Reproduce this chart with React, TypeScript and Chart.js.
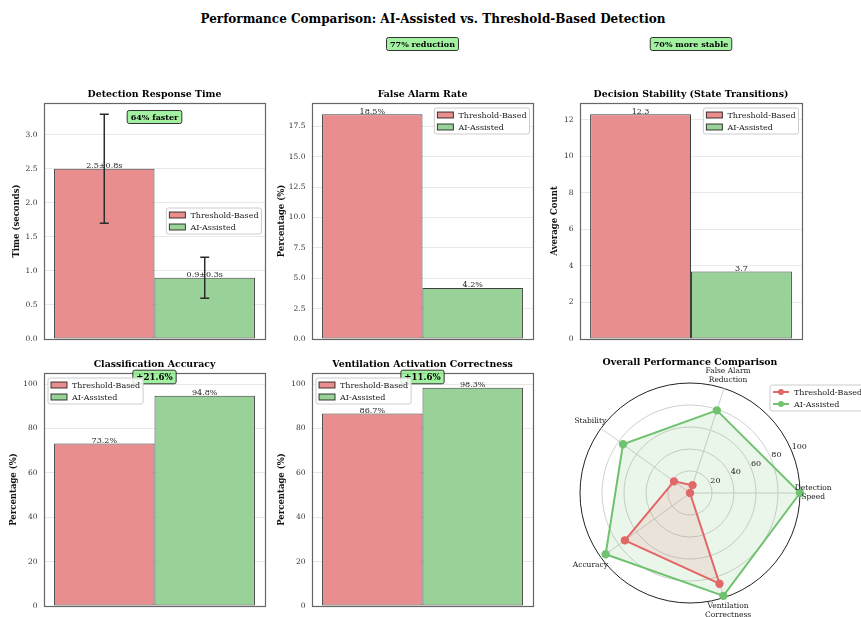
import React, { useEffect, useRef } from 'react';
import { Chart, registerables } from 'chart.js';

Chart.register(...registerables);

const FONT = '"DejaVu Serif", "Liberation Serif", serif';

// ---------- data ----------
const seriesNames = ['Threshold-Based', 'AI-Assisted'];

const responseTime = [2.5, 0.9];
const responseStd = [0.8, 0.3];
const falseAlarmRate = [18.5, 4.2];
const stateTransitions = [12.3, 3.7];
const classificationAccuracy = [73.2, 94.8];
const ventilationCorrectness = [86.7, 98.3];

const badgeTexts = ['64% faster', '77% reduction', '70% more stable', '+21.6%', '+11.6%'];

// radar categories in clockwise order starting at the right
const radarCategories = [
  ['Detection', 'Speed'],
  ['Ventilation', 'Correctness'],
  ['Accuracy'],
  ['Stability'],
  ['False Alarm', 'Reduction'],
];
const radarThreshold = [0, 86.7, 73.2, 18, 7.5];
const radarAI = [100, 98.3, 94.8, 75.3, 79];
const radarTicks = [20, 40, 60, 80, 100];

// ---------- styles ----------
const BAR_RED = 'rgb(232,142,142)';
const BAR_GREEN = 'rgb(152,210,152)';
const EDGE = 'rgba(0,0,0,0.75)';
const LINE_RED = 'rgb(226,104,104)';
const LINE_GREEN = 'rgb(112,194,112)';
const FRAME = '#666666';
const GRID = '#e8e8e8';

function roundRect(ctx: CanvasRenderingContext2D, x: number, y: number, w: number, h: number, r: number) {
  ctx.beginPath();
  ctx.moveTo(x + r, y);
  ctx.arcTo(x + w, y, x + w, y + h, r);
  ctx.arcTo(x + w, y + h, x, y + h, r);
  ctx.arcTo(x, y + h, x, y, r);
  ctx.arcTo(x, y, x + w, y, r);
  ctx.closePath();
}

function drawBadge(ctx: CanvasRenderingContext2D, cx: number, cy: number, text: string, size: number) {
  ctx.save();
  ctx.font = `bold ${size}px ${FONT}`;
  const tw = ctx.measureText(text).width;
  const w = tw + 7;
  const h = size + 5;
  roundRect(ctx, cx - w / 2, cy - h / 2, w, h, 2);
  ctx.fillStyle = 'rgba(144,238,144,0.85)';
  ctx.fill();
  ctx.strokeStyle = '#333';
  ctx.lineWidth = 1;
  ctx.stroke();
  ctx.fillStyle = '#000';
  ctx.textAlign = 'center';
  ctx.textBaseline = 'middle';
  ctx.fillText(text, cx, cy + 0.5);
  ctx.restore();
}

type LegendItem = { label: string; fill: string; line: string };

function drawLegend(
  ctx: CanvasRenderingContext2D,
  ax: number,
  ay: number,
  hAlign: 'left' | 'right',
  vAlign: 'top' | 'center',
  items: LegendItem[],
  kind: 'patch' | 'line'
) {
  ctx.save();
  const fs = 8;
  ctx.font = `${fs}px ${FONT}`;
  const rowH = 12;
  const padX = 3;
  const padY = 1;
  const handleW = 16;
  const gap = 5;
  let tw = 0;
  items.forEach((it) => (tw = Math.max(tw, ctx.measureText(it.label).width)));
  const w = padX + handleW + gap + tw + padX;
  const h = padY * 2 + rowH * items.length;
  const x = hAlign === 'left' ? ax : ax - w;
  const y = vAlign === 'top' ? ay : ay - h / 2;
  roundRect(ctx, x, y, w, h, 2);
  ctx.fillStyle = 'rgba(255,255,255,0.85)';
  ctx.fill();
  ctx.strokeStyle = '#cccccc';
  ctx.lineWidth = 1;
  ctx.stroke();
  items.forEach((it, i) => {
    const cy = y + padY + rowH * (i + 0.5);
    const hx = x + padX;
    if (kind === 'patch') {
      ctx.fillStyle = it.fill;
      ctx.fillRect(hx, cy - 3, handleW, 6);
      ctx.strokeStyle = EDGE;
      ctx.lineWidth = 1;
      ctx.strokeRect(hx, cy - 3, handleW, 6);
    } else {
      ctx.strokeStyle = it.line;
      ctx.lineWidth = 2;
      ctx.beginPath();
      ctx.moveTo(hx, cy);
      ctx.lineTo(hx + handleW, cy);
      ctx.stroke();
      ctx.fillStyle = it.line;
      ctx.beginPath();
      ctx.arc(hx + handleW / 2, cy, 3, 0, Math.PI * 2);
      ctx.fill();
    }
    ctx.fillStyle = '#222';
    ctx.textAlign = 'left';
    ctx.textBaseline = 'middle';
    ctx.fillText(it.label, hx + handleW + gap, cy + 0.5);
  });
  ctx.restore();
}

const legendItems: LegendItem[] = [
  { label: seriesNames[0], fill: BAR_RED, line: LINE_RED },
  { label: seriesNames[1], fill: BAR_GREEN, line: LINE_GREEN },
];

type PanelCfg = {
  id: string;
  left: number;
  top: number;
  w: number;
  h: number;
  pad: { left: number; right: number; top: number; bottom: number };
  yWidth: number;
  yTitlePad: number;
  title: string;
  yTitle: string;
  values: number[];
  errors?: number[];
  labels: string[];
  yMax: number;
  step: number;
  dec: number;
  legend: 'centerRight' | 'upperRight' | 'upperLeft';
  badge: { text: string; dy: number; size: number };
};

const panels: PanelCfg[] = [
  {
    id: 'p1', left: 0, top: 30, w: 290, h: 320,
    pad: { left: 0, right: 25, top: 73, bottom: 6 }, yWidth: 44, yTitlePad: 11.8,
    title: 'Detection Response Time', yTitle: 'Time (seconds)',
    values: responseTime, errors: responseStd,
    labels: responseTime.map((v, i) => `${v.toFixed(1)}±${responseStd[i].toFixed(1)}s`),
    yMax: 3.465, step: 0.5, dec: 1, legend: 'centerRight',
    badge: { text: badgeTexts[0], dy: 14, size: 8 },
  },
  {
    id: 'p2', left: 270, top: 30, w: 290, h: 320,
    pad: { left: 0, right: 27, top: 73, bottom: 6 }, yWidth: 42, yTitlePad: 6.8,
    title: 'False Alarm Rate', yTitle: 'Percentage (%)',
    values: falseAlarmRate, labels: falseAlarmRate.map((v) => `${v.toFixed(1)}%`),
    yMax: 19.425, step: 2.5, dec: 1, legend: 'upperRight',
    badge: { text: badgeTexts[1], dy: -59, size: 8 },
  },
  {
    id: 'p3', left: 540, top: 30, w: 290, h: 320,
    pad: { left: 0, right: 28, top: 73, bottom: 6 }, yWidth: 40, yTitlePad: 9.8,
    title: 'Decision Stability (State Transitions)', yTitle: 'Average Count',
    values: stateTransitions, labels: stateTransitions.map((v) => v.toFixed(1)),
    yMax: 12.915, step: 2, dec: 0, legend: 'upperRight',
    badge: { text: badgeTexts[2], dy: -59, size: 8 },
  },
  {
    id: 'p4', left: 0, top: 350, w: 290, h: 267,
    pad: { left: 0, right: 25, top: 23, bottom: 4 }, yWidth: 44, yTitlePad: 8.3,
    title: 'Classification Accuracy', yTitle: 'Percentage (%)',
    values: classificationAccuracy, labels: classificationAccuracy.map((v) => `${v.toFixed(1)}%`),
    yMax: 105, step: 20, dec: 0, legend: 'upperLeft',
    badge: { text: badgeTexts[3], dy: 4, size: 8.6 },
  },
  {
    id: 'p5', left: 270, top: 350, w: 290, h: 267,
    pad: { left: 0, right: 27, top: 23, bottom: 4 }, yWidth: 42, yTitlePad: 6.5,
    title: 'Ventilation Activation Correctness', yTitle: 'Percentage (%)',
    values: ventilationCorrectness, labels: ventilationCorrectness.map((v) => `${v.toFixed(1)}%`),
    yMax: 105, step: 20, dec: 0, legend: 'upperLeft',
    badge: { text: badgeTexts[4], dy: 4, size: 8.6 },
  },
];

function BarPanel({ cfg }: { cfg: PanelCfg }) {
  const ref = useRef<HTMLCanvasElement>(null);
  useEffect(() => {
    const canvas = ref.current!;
    const overlay = {
      id: 'overlay-' + cfg.id,
      afterDraw(chart: any) {
        const { ctx, chartArea: a } = chart;
        const ys = chart.scales.y;
        ctx.save();
        // frame
        ctx.strokeStyle = FRAME;
        ctx.lineWidth = 1.2;
        ctx.strokeRect(Math.round(a.left) + 0.5, Math.round(a.top) + 0.5, Math.round(a.right - a.left), Math.round(a.bottom - a.top));
        // error bars
        if (cfg.errors) {
          cfg.values.forEach((v, i) => {
            const el = chart.getDatasetMeta(i).data[0];
            const e = cfg.errors![i];
            const yt = ys.getPixelForValue(v + e);
            const yb = ys.getPixelForValue(v - e);
            ctx.strokeStyle = '#2b2b2b';
            ctx.lineWidth = 1.5;
            ctx.beginPath();
            ctx.moveTo(el.x, yt);
            ctx.lineTo(el.x, yb);
            ctx.moveTo(el.x - 4.5, yt);
            ctx.lineTo(el.x + 4.5, yt);
            ctx.moveTo(el.x - 4.5, yb);
            ctx.lineTo(el.x + 4.5, yb);
            ctx.stroke();
          });
        }
        // value labels
        ctx.font = `8px ${FONT}`;
        ctx.fillStyle = '#222';
        ctx.textAlign = 'center';
        ctx.textBaseline = 'alphabetic';
        cfg.values.forEach((v, i) => {
          const el = chart.getDatasetMeta(i).data[0];
          ctx.fillText(cfg.labels[i], el.x, el.y - 0.5);
        });
        // title
        ctx.font = `bold 9.4px ${FONT}`;
        ctx.fillStyle = '#000';
        ctx.textBaseline = 'middle';
        ctx.fillText(cfg.title, (a.left + a.right) / 2, a.top - 8);
        // badge
        drawBadge(ctx, (a.left + a.right) / 2, a.top + cfg.badge.dy, cfg.badge.text, cfg.badge.size);
        // legend
        if (cfg.legend === 'centerRight') {
          drawLegend(ctx, a.right - 3.5, (a.top + a.bottom) / 2, 'right', 'center', legendItems, 'patch');
        } else if (cfg.legend === 'upperRight') {
          drawLegend(ctx, a.right - 3.5, a.top + 5, 'right', 'top', legendItems, 'patch');
        } else {
          drawLegend(ctx, a.left + 4, a.top + 5, 'left', 'top', legendItems, 'patch');
        }
        ctx.restore();
      },
    };
    const chart = new Chart(canvas, {
      type: 'bar',
      data: {
        labels: [''],
        datasets: [
          { label: seriesNames[0], data: [cfg.values[0]], backgroundColor: BAR_RED, borderColor: EDGE, borderWidth: 1, borderSkipped: false },
          { label: seriesNames[1], data: [cfg.values[1]], backgroundColor: BAR_GREEN, borderColor: EDGE, borderWidth: 1, borderSkipped: false },
        ],
      },
      options: {
        animation: false,
        responsive: false,
        maintainAspectRatio: false,
        devicePixelRatio: 1,
        layout: { padding: cfg.pad },
        datasets: { bar: { categoryPercentage: 1 / 1.1, barPercentage: 1 } },
        plugins: { legend: { display: false }, title: { display: false }, tooltip: { enabled: false } },
        scales: {
          x: { display: false },
          y: {
            min: 0,
            max: cfg.yMax,
            afterFit: (s: any) => {
              s.width = cfg.yWidth;
            },
            ticks: {
              stepSize: cfg.step,
              includeBounds: false,
              padding: 6.5,
              color: '#333',
              font: { family: FONT, size: 7.5 },
              callback: (v: any) => Number(v).toFixed(cfg.dec),
            },
            grid: { color: GRID, drawTicks: false, lineWidth: 1 },
            border: { display: false },
            title: {
              display: true,
              text: cfg.yTitle,
              color: '#111',
              font: { family: FONT, size: 8.5, weight: 'bold' },
              padding: { top: cfg.yTitlePad, bottom: 0 },
            },
          },
        },
      } as any,
      plugins: [overlay],
    });
    return () => chart.destroy();
  }, []);
  return (
    <canvas
      ref={ref}
      width={cfg.w}
      height={cfg.h}
      style={{ position: 'absolute', left: cfg.left, top: cfg.top, width: cfg.w, height: cfg.h }}
    />
  );
}

function RadarPanel() {
  const ref = useRef<HTMLCanvasElement>(null);
  useEffect(() => {
    const canvas = ref.current!;
    const overlay = {
      id: 'radar-overlay',
      afterDraw(chart: any) {
        const { ctx } = chart;
        const r = chart.scales.r;
        ctx.save();
        // title
        ctx.font = `bold 9.4px ${FONT}`;
        ctx.fillStyle = '#000';
        ctx.textAlign = 'center';
        ctx.textBaseline = 'middle';
        ctx.fillText('Overall Performance Comparison', r.xCenter, r.yCenter - 130.5);
        // category labels
        ctx.font = `7.5px ${FONT}`;
        ctx.fillStyle = '#222';
        radarCategories.forEach((lines, i) => {
          const p = r.getPointPosition(i, r.drawingArea * 1.12);
          const lh = 9;
          lines.forEach((ln, j) => {
            ctx.fillText(ln, p.x, p.y + (j - (lines.length - 1) / 2) * lh);
          });
        });
        // radial tick labels at 22.5 degrees
        ctx.font = `8px ${FONT}`;
        ctx.textAlign = 'left';
        ctx.textBaseline = 'bottom';
        const ang = (22.5 * Math.PI) / 180;
        radarTicks.forEach((t) => {
          const d = r.getDistanceFromCenterForValue(t);
          ctx.fillText(String(t), r.xCenter + d * Math.cos(ang), r.yCenter - d * Math.sin(ang));
        });
        ctx.restore();
        drawLegend(ctx, 210, 35, 'left', 'top', legendItems, 'line');
      },
    };
    const chart = new Chart(canvas, {
      type: 'radar',
      data: {
        labels: radarCategories,
        datasets: [
          {
            label: seriesNames[0],
            data: radarThreshold,
            borderColor: LINE_RED,
            backgroundColor: 'rgba(226,104,104,0.13)',
            pointBackgroundColor: LINE_RED,
            pointBorderColor: LINE_RED,
            pointRadius: 3.2,
            borderWidth: 2,
            fill: true,
          },
          {
            label: seriesNames[1],
            data: radarAI,
            borderColor: LINE_GREEN,
            backgroundColor: 'rgba(112,194,112,0.14)',
            pointBackgroundColor: LINE_GREEN,
            pointBorderColor: LINE_GREEN,
            pointRadius: 3.2,
            borderWidth: 2,
            fill: true,
          },
        ],
      },
      options: {
        animation: false,
        responsive: false,
        maintainAspectRatio: false,
        devicePixelRatio: 1,
        layout: { padding: { left: 20, right: 61, top: 33, bottom: 14 } },
        elements: { line: { tension: 0 } },
        plugins: { legend: { display: false }, tooltip: { enabled: false } },
        scales: {
          r: {
            min: 0,
            max: 100,
            startAngle: 90,
            ticks: { display: false, stepSize: 20 },
            pointLabels: { display: false },
            grid: {
              circular: true,
              color: (c: any) => (c.tick && c.tick.value === 100 ? '#222' : '#cfcfcf'),
              lineWidth: 1,
            },
            angleLines: { color: '#cfcfcf', lineWidth: 1 },
          },
        },
      } as any,
      plugins: [overlay],
    });
    return () => chart.destroy();
  }, []);
  return (
    <canvas
      ref={ref}
      width={301}
      height={267}
      style={{ position: 'absolute', left: 560, top: 350, width: 301, height: 267 }}
    />
  );
}

export default function App() {
  return (
    <div
      style={{
        position: 'absolute',
        left: 0,
        top: 0,
        width: 861,
        height: 617,
        background: '#fff',
        overflow: 'hidden',
        fontFamily: FONT,
      }}
    >
      <div
        style={{
          position: 'absolute',
          left: 0,
          top: 11.5,
          width: 866,
          textAlign: 'center',
          fontWeight: 'bold',
          fontSize: 12,
          lineHeight: '14px',
          color: '#000',
        }}
      >
        Performance Comparison: AI-Assisted vs. Threshold-Based Detection
      </div>
      {panels.map((p) => (
        <BarPanel key={p.id} cfg={p} />
      ))}
      <RadarPanel />
    </div>
  );
}
